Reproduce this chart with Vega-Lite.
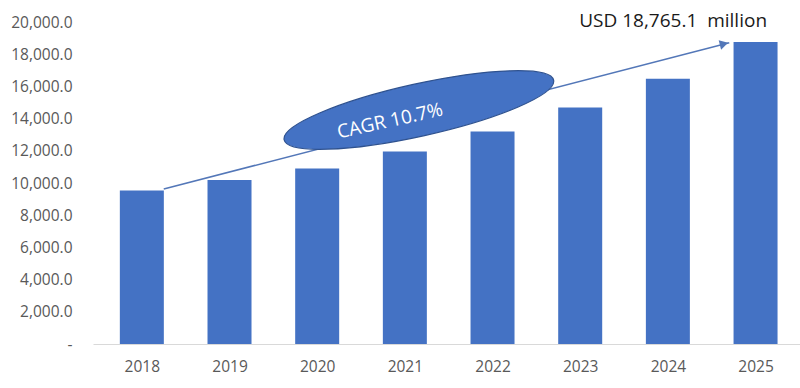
{
  "$schema": "https://vega.github.io/schema/vega-lite/v6.json",
  "width": 707,
  "height": 322,
  "autosize": {"type": "none"},
  "padding": {"left": 93, "top": 22, "right": 0, "bottom": 44},
  "background": "white",
  "config": {"view": {"stroke": null}, "font": "Open Sans"},
  "datasets": {
    "market": [
      {"year": 2018, "value": 9530},
      {"year": 2019, "value": 10180},
      {"year": 2020, "value": 10900},
      {"year": 2021, "value": 11960},
      {"year": 2022, "value": 13200},
      {"year": 2023, "value": 14690},
      {"year": 2024, "value": 16470},
      {"year": 2025, "value": 18765.1}
    ],
    "arrow": [{"year": 2018.25, "value": 9627, "year2": 2024.70, "value2": 18714}],
    "head": [{"year": 2024.64, "value": 18640}],
    "bubble": [{"year": 2021.16, "value": 14534}],
    "cagr": [{"year": 2020.83, "value": 13851, "label": "CAGR 10.7%"}],
    "total": [{"year": 2024.06, "value": 20062, "label": "USD 18,765.1\u00a0 million"}]
  },
  "encoding": {
    "x": {
      "field": "year",
      "type": "quantitative",
      "title": null,
      "scale": {"domain": [2017.5, 2025.45], "nice": false, "zero": false},
      "axis": {
        "values": [2018, 2019, 2020, 2021, 2022, 2023, 2024, 2025],
        "format": "d",
        "ticks": false,
        "grid": false,
        "domainColor": "#D9D9D9",
        "domainWidth": 1,
        "labelFontSize": 15.5,
        "labelColor": "#595959",
        "labelPadding": 15,
        "labelFlush": false
      }
    },
    "y": {
      "field": "value",
      "type": "quantitative",
      "title": null,
      "scale": {"domain": [0, 20000], "nice": false},
      "axis": {
        "values": [0, 2000, 4000, 6000, 8000, 10000, 12000, 14000, 16000, 18000, 20000],
        "labelExpr": "datum.value === 0 ? '-' : format(datum.value, ',.1f')",
        "ticks": false,
        "domain": false,
        "grid": false,
        "labelFontSize": 15.5,
        "labelColor": "#595959",
        "labelPadding": 21
      }
    }
  },
  "layer": [
    {
      "data": {"name": "market"},
      "mark": {"type": "bar", "width": 44, "color": "#4472C4"}
    },
    {
      "data": {"name": "arrow"},
      "mark": {"type": "rule", "color": "#5377B8", "strokeWidth": 1.5},
      "encoding": {"x2": {"field": "year2"}, "y2": {"field": "value2"}}
    },
    {
      "data": {"name": "head"},
      "mark": {"type": "point", "shape": "triangle-right", "filled": true, "color": "#5377B8", "size": 95, "angle": -14.3, "opacity": 1}
    },
    {
      "data": {"name": "bubble"},
      "mark": {
        "type": "point",
        "shape": "M -1 0 A 1 0.19 0 1 1 1 0 A 1 0.19 0 1 1 -1 0 Z",
        "filled": true,
        "fill": "#4472C4",
        "stroke": "#2F528F",
        "strokeWidth": 1.2,
        "size": 76176,
        "angle": -12.5,
        "opacity": 1
      }
    },
    {
      "data": {"name": "cagr"},
      "mark": {"type": "text", "color": "white", "fontSize": 19, "angle": -12.5, "align": "center", "baseline": "middle"},
      "encoding": {"text": {"field": "label"}}
    },
    {
      "data": {"name": "total"},
      "mark": {"type": "text", "color": "#1A1A1A", "fontSize": 19, "align": "center", "baseline": "middle"},
      "encoding": {"text": {"field": "label"}}
    }
  ]
}
